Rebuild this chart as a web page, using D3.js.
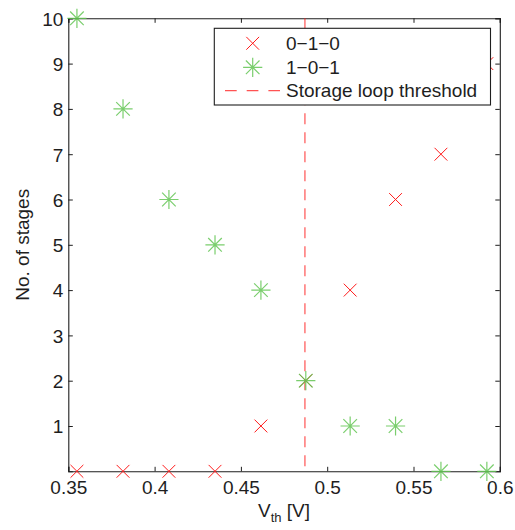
<!DOCTYPE html>
<html>
<head>
<meta charset="utf-8">
<script src="https://cdn.jsdelivr.net/npm/d3@7"></script>
<style>
  html, body { margin: 0; padding: 0; background: #fff; }
  svg { display: block; font-family: "Liberation Sans", Arial, Helvetica, sans-serif; }
</style>
</head>
<body>
<div id="chart"></div>
<script>
// ---- data ----
const vth = [0.355, 0.3817, 0.4083, 0.435, 0.4616, 0.4876, 0.5133, 0.5396, 0.5659, 0.5925];
const stages010 = [0, 0, 0, 0, 1, 2, 4, 6, 7, 9];
const stages101 = [10, 8, 6, 5, 4, 2, 1, 1, 0, 0];
const threshold = 0.4871;
const xTicks = [0.35, 0.4, 0.45, 0.5, 0.55, 0.6];
const xTickLabels = ["0.35", "0.4", "0.45", "0.5", "0.55", "0.6"];
const yTicks = [1, 2, 3, 4, 5, 6, 7, 8, 9, 10];
const legendLabels = ["0\u22121\u22120", "1\u22120\u22121", "Storage loop threshold"];

const W = 515, H = 530;
const L = 68.3, R = 499.8, T = 18.3, B = 471.3;
const red = "#ff1a1a", green = "#63c553", ink = "#1e1e1e";

const svg = d3.select("#chart").append("svg").attr("width", W).attr("height", H);

const x = d3.scaleLinear().domain([0.35, 0.6]).range([L, R]);
const y = d3.scaleLinear().domain([0, 10]).range([B, T]);

// axes (inward ticks, box)
const fmt = d => xTickLabels[xTicks.indexOf(d)];
const axB = svg.append("g").attr("transform", `translate(0,${B})`)
  .call(d3.axisBottom(x).tickValues(xTicks).tickSize(-4.5).tickPadding(0).tickFormat(fmt));
const axT = svg.append("g").attr("transform", `translate(0,${T})`)
  .call(d3.axisTop(x).tickValues(xTicks).tickSize(-4.5).tickFormat(""));
const axL = svg.append("g").attr("transform", `translate(${L},0)`)
  .call(d3.axisLeft(y).tickValues(yTicks).tickSize(-4.5).tickPadding(0).tickFormat(d3.format("d")));
const axR = svg.append("g").attr("transform", `translate(${R},0)`)
  .call(d3.axisRight(y).tickValues(yTicks).tickSize(-4.5).tickFormat(""));

[axB, axT, axL, axR].forEach(g => {
  g.selectAll("path.domain").attr("stroke", ink).attr("stroke-width", 1.1);
  g.selectAll(".tick line").attr("stroke", ink).attr("stroke-width", 1);
  g.selectAll(".tick text").attr("fill", ink).attr("font-size", 19)
    .attr("font-family", '"Liberation Sans", Arial, sans-serif');
});
axB.selectAll(".tick text").attr("y", 23).attr("dy", 0);
axL.selectAll(".tick text").attr("x", -5).attr("dy", "0.36em");

// axis titles
svg.append("text")
  .attr("transform", `translate(28.5,${(T + B) / 2}) rotate(-90)`)
  .attr("text-anchor", "middle").attr("font-size", 19).attr("fill", ink)
  .text("No. of stages");
const xl = svg.append("text")
  .attr("x", (L + R) / 2).attr("y", 516.5)
  .attr("text-anchor", "middle").attr("font-size", 19).attr("fill", ink);
xl.append("tspan").text("V");
xl.append("tspan").attr("font-size", 13).attr("dy", 5).text("th");
xl.append("tspan").attr("dy", -5).text(" [V]");

// threshold line
svg.append("line")
  .attr("x1", x(threshold)).attr("x2", x(threshold))
  .attr("y1", y(10)).attr("y2", y(0))
  .attr("stroke", red).attr("stroke-opacity", 0.75).attr("stroke-width", 1.2)
  .attr("stroke-dasharray", "11,8");

// marker path generators
const crossPath = (s) => `M${-s},${-s}L${s},${s}M${-s},${s}L${s},${-s}`;
const starPath = (p, d) => `M${-p},0L${p},0M0,${-p}L0,${p}M${-d},${-d}L${d},${d}M${-d},${d}L${d},${-d}`;

const data010 = vth.map((v, i) => ({ v, s: stages010[i] }));
const data101 = vth.map((v, i) => ({ v, s: stages101[i] }));

svg.append("g").selectAll("path").data(data010).join("path")
  .attr("transform", d => `translate(${x(d.v)},${y(d.s)})`)
  .attr("d", crossPath(6.4))
  .attr("fill", "none").attr("stroke", red).attr("stroke-width", 1);

svg.append("g").selectAll("path").data(data101).join("path")
  .attr("transform", d => `translate(${x(d.v)},${y(d.s)})`)
  .attr("d", starPath(9.6, 6.8))
  .attr("fill", "none").attr("stroke", green).attr("stroke-width", 1.2).attr("stroke-opacity", 0.85);

// legend
const lg = svg.append("g");
lg.append("rect").attr("x", 214.3).attr("y", 28.3).attr("width", 490.5 - 214.3).attr("height", 105 - 28.3)
  .attr("fill", "#fff").attr("stroke", ink).attr("stroke-width", 1.1);
const rowY = [43.3, 67.3, 90.7];
const mx = 252.7;
lg.append("path").attr("transform", `translate(${mx},${rowY[0]})`).attr("d", crossPath(6.4))
  .attr("fill", "none").attr("stroke", red).attr("stroke-width", 1);
lg.append("path").attr("transform", `translate(${mx},${rowY[1]})`).attr("d", starPath(9.6, 6.8))
  .attr("fill", "none").attr("stroke", green).attr("stroke-width", 1.2).attr("stroke-opacity", 0.85);
lg.append("line").attr("x1", 225).attr("x2", 280).attr("y1", rowY[2]).attr("y2", rowY[2])
  .attr("stroke", red).attr("stroke-opacity", 0.75).attr("stroke-width", 1.2)
  .attr("stroke-dasharray", "11.7,10");
lg.selectAll("text.lbl").data(legendLabels).join("text").attr("class", "lbl")
  .attr("x", 286).attr("y", (d, i) => rowY[i] + 6.7)
  .attr("font-size", 19).attr("fill", ink).text(d => d);
</script>
</body>
</html>
